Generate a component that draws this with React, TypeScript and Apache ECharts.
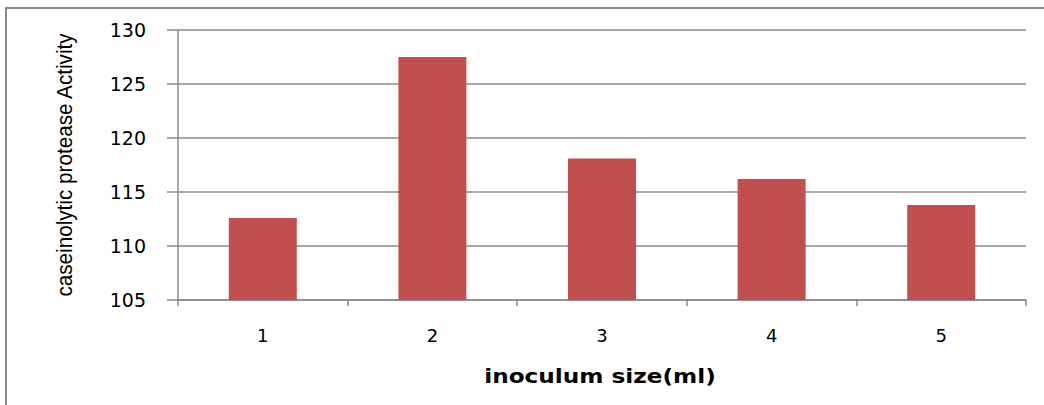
import React, { useEffect, useRef } from "react";
import * as echarts from "echarts";

const categories = ["1", "2", "3", "4", "5"];
const activity = [112.6, 127.5, 118.1, 116.2, 113.8];
const yTicks = { min: 105, max: 130, interval: 5 };
const xAxisTitle = "inoculum size(ml)";
const yAxisTitle = "caseinolytic protease Activity";

export default function App() {
  const ref = useRef<HTMLDivElement>(null);
  useEffect(() => {
    if (!ref.current) return;
    const chart = echarts.init(ref.current, null, { renderer: "svg" });
    chart.setOption({
      animation: false,
      backgroundColor: "#ffffff",
      graphic: [
        {
          type: "rect",
          shape: { x: 6, y: 8, width: 1060, height: 420 },
          style: { fill: "none", stroke: "#8a8a8a", lineWidth: 2 },
          silent: true,
        },
        {
          type: "text",
          x: 65,
          y: 165,
          rotation: Math.PI / 2,
          scaleX: 0.94,
          style: {
            text: yAxisTitle,
            fontFamily: "Liberation Sans",
            fontSize: 22,
            fill: "#000",
            textAlign: "center",
            textVerticalAlign: "middle",
          },
          silent: true,
        },
        {
          type: "text",
          x: 600,
          y: 376,
          scaleX: 1.16,
          style: {
            text: xAxisTitle,
            fontFamily: "DejaVu Sans",
            fontWeight: "bold",
            fontSize: 20,
            fill: "#000",
            textAlign: "center",
            textVerticalAlign: "middle",
          },
          silent: true,
        },
      ],
      grid: { left: 178, right: 18, top: 30, bottom: 105, containLabel: false },
      xAxis: {
        type: "category",
        data: categories,
        boundaryGap: true,
        axisLine: { lineStyle: { color: "#8a8a8a", width: 1.5 } },
        axisTick: { show: true, length: 6, lineStyle: { color: "#8a8a8a", width: 1.5 } },
        axisLabel: {
          fontFamily: "DejaVu Sans",
          fontSize: 18,
          color: "#000",
          margin: 26,
        },
        splitLine: { show: false },
      },
      yAxis: {
        type: "value",
        min: yTicks.min,
        max: yTicks.max,
        interval: yTicks.interval,
        axisLine: { show: true, lineStyle: { color: "#8a8a8a", width: 1.5 } },
        axisTick: { show: true, length: 11, lineStyle: { color: "#8a8a8a", width: 1.5 } },
        axisLabel: {
          fontFamily: "DejaVu Sans",
          fontSize: 19,
          color: "#000",
          margin: 32,
        },
        splitLine: { show: true, lineStyle: { color: "#8a8a8a", width: 1.5 } },
      },
      series: [
        {
          type: "bar",
          data: activity,
          barWidth: 68,
          itemStyle: { color: "#C0504D" },
        },
      ],
    });
    return () => chart.dispose();
  }, []);
  return (
    <div
      ref={ref}
      style={{ position: "fixed", left: 0, top: 0, width: 1044, height: 405 }}
    />
  );
}
